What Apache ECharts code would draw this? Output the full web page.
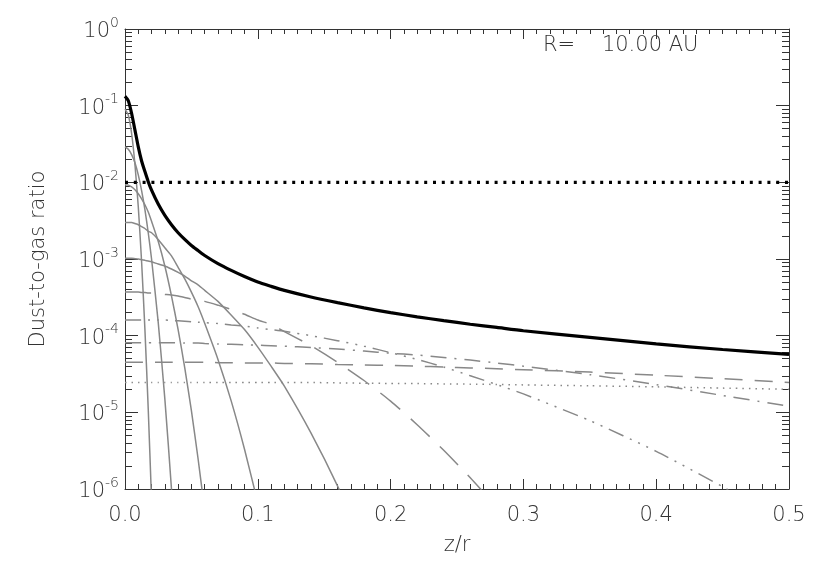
<!DOCTYPE html>
<html>
<head>
<meta charset="utf-8">
<script src="https://cdn.jsdelivr.net/npm/echarts@6/dist/echarts.min.js"></script>
<style>
  html, body { margin: 0; padding: 0; background: #fff; }
  #chart { width: 830px; height: 576px; }
</style>
</head>
<body>
<div id="chart"></div>
<script>
// z/r sample points (shared by all curves)
const zr = [0, 0.0025, 0.005, 0.0075, 0.01, 0.0125, 0.015, 0.0175, 0.02, 0.025, 0.03, 0.035,
  0.04, 0.045, 0.05, 0.055, 0.06, 0.07, 0.08, 0.09, 0.1, 0.11, 0.12, 0.14, 0.16, 0.18,
  0.2, 0.22, 0.24, 0.26, 0.28, 0.3, 0.35, 0.4, 0.45, 0.5]

// total dust-to-gas ratio (thick black)
const totalRatio = [1.33e-1, 1.16e-1, 7.9e-2, 4.8e-2, 2.9e-2, 1.9e-2, 1.38e-2, 1.02e-2, 7.9e-3, 5.2e-3, 3.7e-3, 2.8e-3,
  2.2e-3, 1.8e-3, 1.5e-3, 1.29e-3, 1.11e-3, 8.7e-4, 7.1e-4, 5.9e-4, 5.0e-4, 4.4e-4, 3.9e-4, 3.2e-4, 2.7e-4, 2.3e-4,
  2.0e-4, 1.76e-4, 1.57e-4, 1.41e-4, 1.28e-4, 1.16e-4, 9.5e-5, 7.8e-5, 6.6e-5, 5.7e-5]

// grain size bins (gray solid), null = below the plot
const bin1 = [9.0e-2, 7.5e-2, 4.3e-2, 1.7e-2, 4.8e-3, 9.2e-4, 1.2e-4, 1.1e-5, 7.1e-7, null, null, null,
  null, null, null, null, null, null, null, null, null, null, null, null, null, null,
  null, null, null, null, null, null, null, null, null, null]
const bin2 = [2.9e-2, 2.7e-2, 2.3e-2, 1.8e-2, 1.25e-2, 7.8e-3, 4.4e-3, 2.2e-3, 1.0e-3, 1.5e-4, 1.5e-5, 1.0e-6,
  4e-8, null, null, null, null, null, null, null, null, null, null, null, null, null,
  null, null, null, null, null, null, null, null, null, null]
const bin3 = [9.3e-3, 9.2e-3, 8.7e-3, 8.0e-3, 7.1e-3, 6.1e-3, 5.1e-3, 4.1e-3, 3.1e-3, 1.7e-3, 8.1e-4, 3.3e-4,
  1.2e-4, 3.8e-5, 1.05e-5, 2.5e-6, 5.2e-7, null, null, null, null, null, null, null, null, null,
  null, null, null, null, null, null, null, null, null, null]
const bin4 = [3.0e-3, 3.0e-3, 3.0e-3, 2.9e-3, 2.8e-3, 2.65e-3, 2.5e-3, 2.3e-3, 2.2e-3, 1.8e-3, 1.4e-3, 1.1e-3,
  7.8e-4, 5.5e-4, 3.7e-4, 2.4e-4, 1.45e-4, 4.9e-5, 1.4e-5, 3.3e-6, 6.6e-7, null, null, null, null, null,
  null, null, null, null, null, null, null, null, null, null]
const bin5 = [1.02e-3, 1.02e-3, 1.02e-3, 1.01e-3, 1.0e-3, 9.8e-4, 9.6e-4, 9.4e-4, 9.2e-4, 8.6e-4, 8.1e-4, 7.4e-4,
  6.7e-4, 6.0e-4, 5.2e-4, 4.6e-4, 3.9e-4, 2.8e-4, 1.85e-4, 1.2e-4, 7.1e-5, 4.0e-5, 2.2e-5, 5.4e-6, 1.1e-6, 1.8e-7,
  null, null, null, null, null, null, null, null, null, null]

// small grain bins (gray broken lines)
const binLongDash = [3.7e-4, 3.7e-4, 3.7e-4, 3.7e-4, 3.7e-4, 3.65e-4, 3.65e-4, 3.6e-4, 3.6e-4, 3.5e-4, 3.45e-4, 3.4e-4,
  3.3e-4, 3.15e-4, 3.0e-4, 2.9e-4, 2.8e-4, 2.5e-4, 2.2e-4, 1.9e-4, 1.6e-4, 1.4e-4, 1.13e-4, 7.4e-5, 4.5e-5, 2.6e-5,
  1.4e-5, 6.9e-6, 3.2e-6, 1.4e-6, 5.8e-7, null, null, null, null, null]
const binDash3Dot = [1.6e-4, 1.6e-4, 1.6e-4, 1.6e-4, 1.6e-4, 1.6e-4, 1.6e-4, 1.6e-4, 1.6e-4, 1.6e-4, 1.6e-4, 1.58e-4,
  1.56e-4, 1.54e-4, 1.52e-4, 1.5e-4, 1.48e-4, 1.44e-4, 1.38e-4, 1.33e-4, 1.26e-4, 1.2e-4, 1.14e-4, 1.0e-4, 8.6e-5, 7.3e-5,
  6.0e-5, 4.9e-5, 3.9e-5, 3.0e-5, 2.3e-5, 1.74e-5, 7.8e-6, 3.1e-6, 1.07e-6, 3.3e-7]
const binDashDot = [8.1e-5, 8.1e-5, 8.1e-5, 8.1e-5, 8.1e-5, 8.1e-5, 8.1e-5, 8.1e-5, 8.1e-5, 8.1e-5, 8.1e-5, 8.1e-5,
  8.1e-5, 8.0e-5, 8.0e-5, 8.0e-5, 7.9e-5, 7.8e-5, 7.7e-5, 7.6e-5, 7.5e-5, 7.4e-5, 7.3e-5, 7.0e-5, 6.7e-5, 6.3e-5,
  5.9e-5, 5.6e-5, 5.2e-5, 4.8e-5, 4.4e-5, 4.0e-5, 3.1e-5, 2.3e-5, 1.66e-5, 1.2e-5]
const binDashed = [4.5e-5, 4.5e-5, 4.5e-5, 4.5e-5, 4.5e-5, 4.5e-5, 4.5e-5, 4.5e-5, 4.5e-5, 4.5e-5, 4.5e-5, 4.5e-5,
  4.5e-5, 4.5e-5, 4.5e-5, 4.5e-5, 4.5e-5, 4.45e-5, 4.45e-5, 4.4e-5, 4.4e-5, 4.4e-5, 4.35e-5, 4.3e-5, 4.2e-5, 4.15e-5,
  4.1e-5, 4.0e-5, 3.9e-5, 3.8e-5, 3.7e-5, 3.6e-5, 3.35e-5, 3.05e-5, 2.75e-5, 2.45e-5]
const binDotted = [2.45e-5, 2.45e-5, 2.45e-5, 2.45e-5, 2.45e-5, 2.45e-5, 2.45e-5, 2.45e-5, 2.45e-5, 2.45e-5, 2.45e-5, 2.45e-5,
  2.45e-5, 2.45e-5, 2.45e-5, 2.45e-5, 2.45e-5, 2.45e-5, 2.45e-5, 2.45e-5, 2.45e-5, 2.45e-5, 2.45e-5, 2.45e-5, 2.42e-5, 2.4e-5,
  2.38e-5, 2.37e-5, 2.35e-5, 2.33e-5, 2.31e-5, 2.28e-5, 2.22e-5, 2.15e-5, 2.07e-5, 2.0e-5]

// standard ISM ratio (black dotted)
const ismZ = [0, 0.5]
const ismRatio = [0.01, 0.01]

// axis ticks
const decades = [1e-6, 1e-5, 1e-4, 1e-3, 1e-2, 1e-1, 1]
const mantissas = [2, 3, 4, 5, 6, 7, 8, 9]
const minorValues = []
decades.slice(0, -1).forEach(d => mantissas.forEach(m => minorValues.push(m * d)))

const TEXT = '#333'
const AXIS = '#333'
const GRAY = '#888'
const FONT = 'DejaVu Sans'

const pairs = (xs, ys) => xs.map((x, i) => [x, ys[i]]).filter(p => p[1] != null)

const grayLine = (vals, dash) => ({
  type: 'line',
  data: pairs(zr, vals),
  showSymbol: false,
  smooth: 0.2,
  silent: true,
  lineStyle: { color: GRAY, width: 1.5, type: dash || 'solid' }
})

const xBase = (pos, labels) => ({
  type: 'value',
  position: pos,
  min: 0,
  max: 0.5,
  interval: 0.1,
  axisLine: { show: true, lineStyle: { color: AXIS, width: 1 } },
  axisTick: { show: true, inside: true, length: 10, lineStyle: { color: AXIS } },
  minorTick: { show: true, splitNumber: 10, length: 5, lineStyle: { color: AXIS } },
  axisLabel: {
    show: labels,
    margin: 16,
    fontSize: 21,
    fontFamily: FONT,
    fontWeight: 200,
    color: TEXT,
    formatter: v => v.toFixed(1)
  },
  splitLine: { show: false },
  minorSplitLine: { show: false }
})

const yBase = (pos, major, labels) => ({
  type: 'log',
  logBase: 10,
  position: pos,
  min: 1e-6,
  max: 1,
  axisLine: { show: major, lineStyle: { color: AXIS, width: 1 } },
  axisTick: {
    show: true,
    inside: true,
    length: major ? 13 : 7,
    customValues: major ? decades : minorValues,
    lineStyle: { color: AXIS }
  },
  axisLabel: {
    show: labels,
    customValues: decades,
    margin: 6,
    fontFamily: FONT,
    formatter: v => '{b|10}{s|' + Math.round(Math.log10(v)) + '}',
    rich: {
      b: { fontSize: 21, fontFamily: FONT, fontWeight: 200, color: TEXT, verticalAlign: 'bottom', lineHeight: 26 },
      s: { fontSize: 14, fontFamily: FONT, fontWeight: 200, color: TEXT, verticalAlign: 'top', lineHeight: 26 }
    }
  },
  splitLine: { show: false }
})

const chart = echarts.init(document.getElementById('chart'), null, { renderer: 'canvas' })

const yMain = yBase('left', true, true)
yMain.name = 'Dust-to-gas ratio'
yMain.nameLocation = 'middle'
yMain.nameGap = 76
yMain.nameTextStyle = { fontSize: 21, fontFamily: FONT, fontWeight: 200, color: TEXT }

const xMain = xBase('bottom', true)
xMain.name = 'z/r'
xMain.nameLocation = 'middle'
xMain.nameGap = 46
xMain.nameTextStyle = { fontSize: 21, fontFamily: FONT, fontWeight: 200, color: TEXT }

chart.setOption({
  animation: false,
  backgroundColor: '#fff',
  grid: { left: 125, right: 41, top: 29, bottom: 87, containLabel: false, outerBoundsMode: 'none' },
  xAxis: [xMain, xBase('top', false)],
  yAxis: [yMain, yBase('left', false, false), yBase('right', true, false), yBase('right', false, false)],
  graphic: [{
    type: 'text',
    left: 543,
    top: 35,
    style: { text: 'R=    10.00 AU', fontSize: 21, fontFamily: FONT, fontWeight: 200, fill: TEXT }
  }],
  series: [
    grayLine(bin1),
    grayLine(bin2),
    grayLine(bin3),
    grayLine(bin4),
    grayLine(bin5),
    grayLine(binLongDash, [26, 14]),
    grayLine(binDash3Dot, [16, 7, 2, 7, 2, 7, 2, 7]),
    grayLine(binDashDot, [16, 8, 2, 8]),
    grayLine(binDashed, [18, 12]),
    grayLine(binDotted, [1.5, 5]),
    {
      type: 'line',
      data: pairs(zr, totalRatio),
      showSymbol: false,
      smooth: 0.2,
      silent: true,
      z: 5,
      lineStyle: { color: '#000', width: 3.2 }
    },
    {
      type: 'line',
      data: pairs(ismZ, ismRatio),
      showSymbol: false,
      silent: true,
      z: 6,
      lineStyle: { color: '#000', width: 3.2, type: [3, 5.8], cap: 'butt' }
    }
  ]
})
</script>
</body>
</html>
